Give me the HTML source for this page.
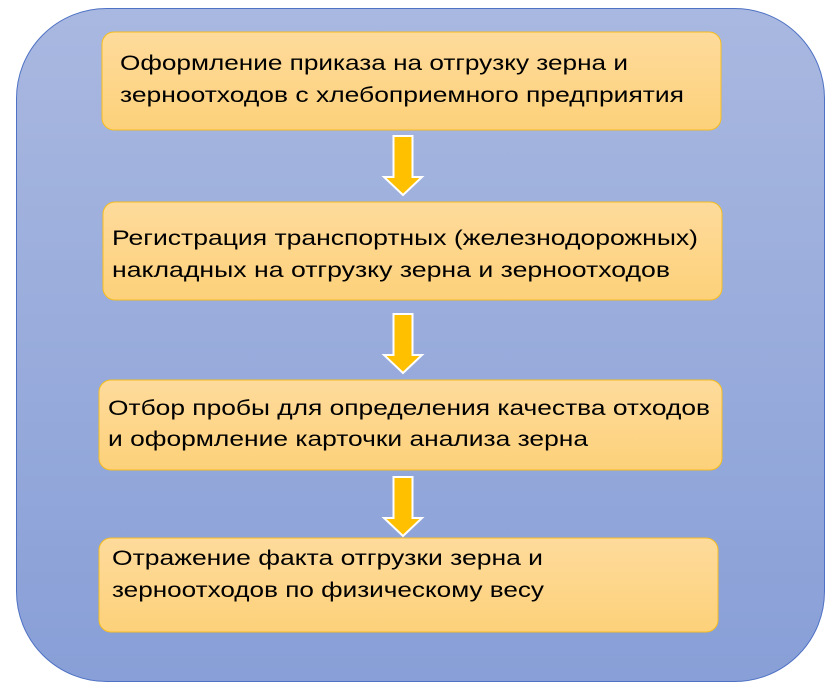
<!DOCTYPE html>
<html><head><meta charset="utf-8"><style>html,body{margin:0;padding:0;background:#fff}</style></head>
<body>
<svg width="835" height="694" viewBox="0 0 835 694" xmlns="http://www.w3.org/2000/svg">
<defs>
<linearGradient id="bg" x1="0" y1="0" x2="0" y2="1"><stop offset="0" stop-color="#a9b8e0"/><stop offset="1" stop-color="#889fd7"/></linearGradient>
<linearGradient id="bx" x1="0" y1="0" x2="0" y2="1"><stop offset="0" stop-color="#fedb9c"/><stop offset="1" stop-color="#fdd17a"/></linearGradient>
</defs>
<rect x="16.5" y="8.5" width="808" height="673" rx="90" fill="url(#bg)" stroke="#4f72c4" stroke-width="1"/>
<g fill="url(#bx)" stroke="#f5bd1f" stroke-width="1">
<rect x="102" y="32" width="619" height="98" rx="12"/>
<rect x="103" y="202" width="619" height="98" rx="12"/>
<rect x="99" y="380" width="623" height="90" rx="12"/>
<rect x="99" y="538" width="619" height="94" rx="12"/>
</g>
<g fill="#ffc000" stroke="#fff" stroke-width="2">
<path d="M393.5 136 H412.5 V177 H422 L403 195 L384 177 H393.5 Z"/>
<path d="M393.5 314 H412.5 V355 H422 L403 373 L384 355 H393.5 Z"/>
<path d="M393.5 477 H412.5 V518 H422 L403 536 L384 518 H393.5 Z"/>
</g>
<g font-family="Liberation Sans, DejaVu Sans, sans-serif" font-size="21" fill="#000">
<text x="120" y="70" textLength="508" lengthAdjust="spacingAndGlyphs">Оформление приказа на отгрузку зерна и</text>
<text x="120" y="102" textLength="564" lengthAdjust="spacingAndGlyphs">зерноотходов с хлебоприемного предприятия</text>
<text x="112" y="245" textLength="586" lengthAdjust="spacingAndGlyphs">Регистрация транспортных (железнодорожных)</text>
<text x="112" y="277" textLength="558" lengthAdjust="spacingAndGlyphs">накладных на отгрузку зерна и зерноотходов</text>
<text x="108" y="415" textLength="602" lengthAdjust="spacingAndGlyphs">Отбор пробы для определения качества отходов</text>
<text x="108" y="446" textLength="480" lengthAdjust="spacingAndGlyphs">и оформление карточки анализа зерна</text>
<text x="112" y="565" textLength="431" lengthAdjust="spacingAndGlyphs">Отражение факта отгрузки зерна и</text>
<text x="112" y="597" textLength="432" lengthAdjust="spacingAndGlyphs">зерноотходов по физическому весу</text>
</g>
</svg>
</body></html>
